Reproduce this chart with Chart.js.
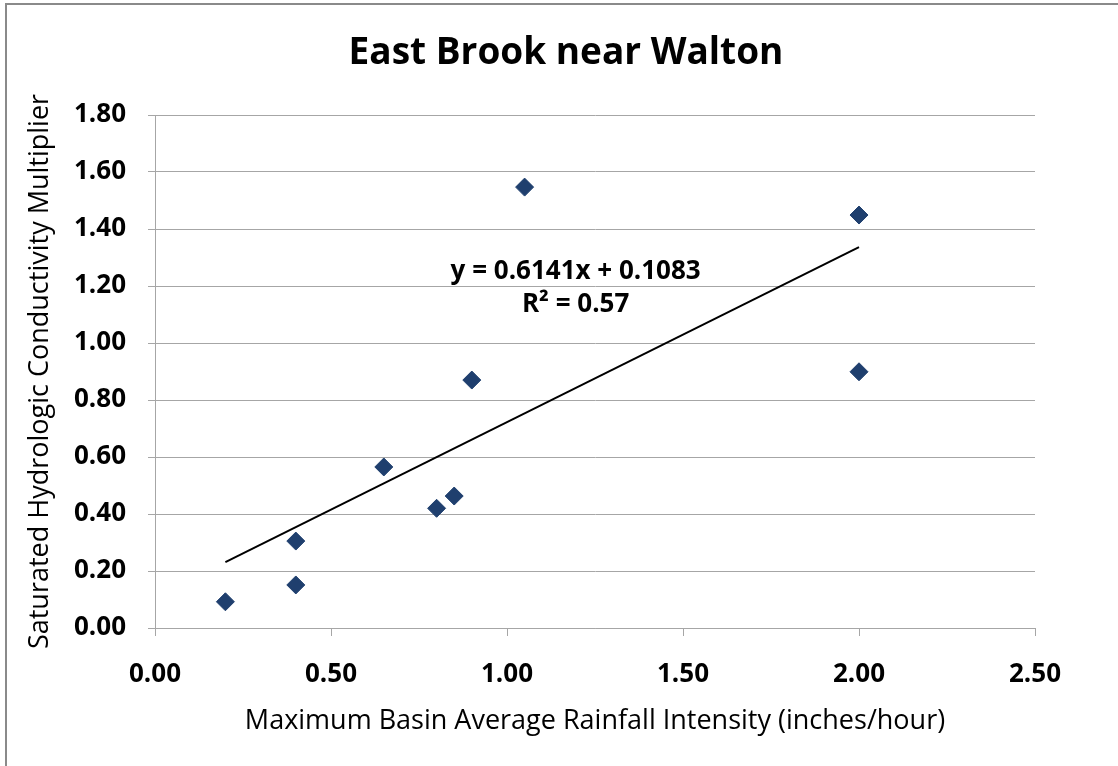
<!DOCTYPE html>
<html>
<head>
<meta charset="utf-8">
<script src="https://cdn.jsdelivr.net/npm/chart.js@4"></script>
<style>
  html, body { margin: 0; padding: 0; background: #fff; }
  #wrap { position: relative; width: 1118px; height: 766px; }
  #frame { position: absolute; left: 5px; top: 3px; right: -10px; bottom: -10px;
           border-left: 2px solid #8a8a8a; border-top: 2px solid #8a8a8a; pointer-events: none; }
</style>
</head>
<body>
<div id="wrap">
  <canvas id="chart" width="1118" height="766"></canvas>
  <div id="frame"></div>
</div>
<script>
// rainfall intensity (in/hr) vs. Ksat multiplier
const rainIntensity = [0.2, 0.4, 0.4, 0.65, 0.8, 0.85, 0.9, 1.05, 2.0, 2.0];
const ksatMultiplier = [0.092, 0.151, 0.305, 0.565, 0.42, 0.463, 0.87, 1.547, 1.449, 0.899];

// linear trendline end points (y = 0.6141x + 0.1083)
const trendX = [0.2, 2.0];
const trendY = [0.2311, 1.3365];
const trendLabel = ['y = 0.6141x + 0.1083', 'R² = 0.57'];
const labelAt = { x: 1.195, y: [1.25, 1.135] };

const chartTitle = 'East Brook near Walton';

const FONT = "'Open Sans', 'DejaVu Sans', sans-serif";
const GRID = '#a6a6a6';

// title is centred on the whole frame, not the plot, so draw it by hand
const texts = {
  id: 'texts',
  afterDatasetsDraw(chart) {
    const { ctx, scales } = chart;
    ctx.save();
    ctx.fillStyle = '#000';
    ctx.textAlign = 'center';
    ctx.textBaseline = 'middle';
    ctx.font = 'bold 37px ' + FONT;
    ctx.fillText(chartTitle, 566, 53);
    ctx.font = 'bold 26px ' + FONT;
    trendLabel.forEach((t, i) => {
      ctx.fillText(t, scales.x.getPixelForValue(labelAt.x), scales.y.getPixelForValue(labelAt.y[i]));
    });
    ctx.restore();
  }
};

new Chart(document.getElementById('chart'), {
  type: 'scatter',
  data: {
    datasets: [
      {
        label: 'Observed',
        data: rainIntensity.map((x, i) => ({ x, y: ksatMultiplier[i] })),
        pointStyle: 'rectRot',
        pointRadius: 9,
        backgroundColor: '#1f3f6e',
        borderColor: '#1f3f6e',
        borderWidth: 1
      },
      {
        label: 'Linear',
        data: trendX.map((x, i) => ({ x, y: trendY[i] })),
        showLine: true,
        pointRadius: 0,
        borderColor: '#000',
        borderWidth: 2
      }
    ]
  },
  options: {
    responsive: false,
    animation: false,
    layout: { padding: { left: 0, right: 83, top: 115, bottom: 0 } },
    plugins: {
      legend: { display: false },
      tooltip: { enabled: false },
      title: { display: false }
    },
    scales: {
      x: {
        type: 'linear',
        min: 0, max: 2.5,
        afterFit(s) { s.height = 138; },
        ticks: {
          stepSize: 0.5,
          padding: 23,
          color: '#000',
          font: { family: FONT, size: 26, weight: 'bold' },
          callback: v => v.toFixed(2)
        },
        grid: { drawOnChartArea: false, tickLength: 8, color: GRID },
        border: { color: GRID, width: 1 },
        title: {
          display: true,
          text: 'Maximum Basin Average Rainfall Intensity (inches/hour)',
          color: '#000',
          font: { family: FONT, size: 27 },
          padding: { top: 0, bottom: 28 }
        }
      },
      y: {
        type: 'linear',
        min: 0, max: 1.8,
        afterFit(s) { s.width = 155; },
        ticks: {
          stepSize: 0.2,
          padding: 22,
          color: '#000',
          font: { family: FONT, size: 26, weight: 'bold' },
          callback: v => v.toFixed(2)
        },
        grid: { color: GRID, tickLength: 7 },
        border: { color: GRID, width: 1 },
        title: {
          display: true,
          text: 'Saturated Hydrologic Conductivity Multiplier',
          color: '#000',
          font: { family: FONT, size: 27 },
          padding: { top: 24, bottom: 0 }
        }
      }
    }
  },
  plugins: [texts]
});
</script>
</body>
</html>
